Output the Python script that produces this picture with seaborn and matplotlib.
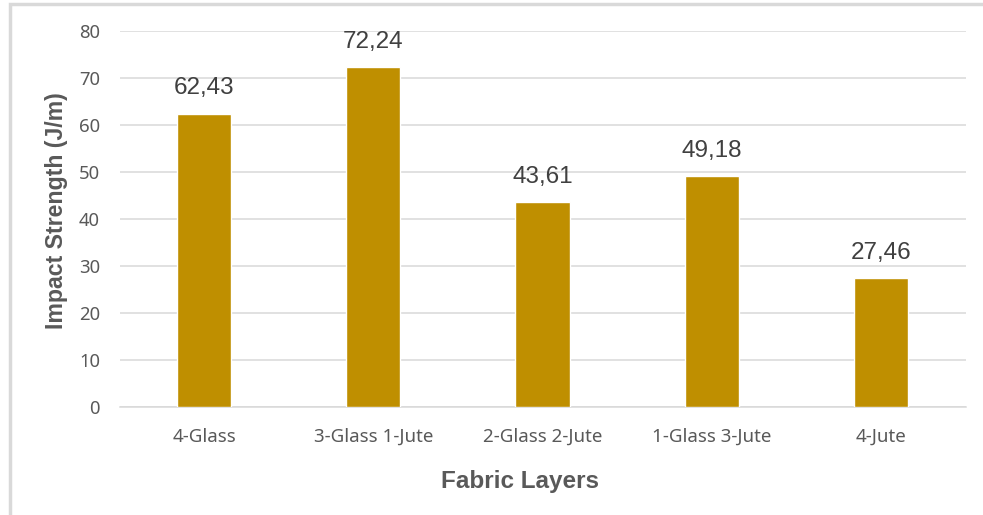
import matplotlib
matplotlib.use("Agg")
import matplotlib.pyplot as plt
import seaborn as sns
import pandas as pd
from matplotlib.patches import Rectangle

categories = ["4-Glass", "3-Glass 1-Jute", "2-Glass 2-Jute", "1-Glass 3-Jute", "4-Jute"]
values = [62.43, 72.24, 43.61, 49.18, 27.46]
value_labels = ["62,43", "72,24", "43,61", "49,18", "27,46"]
yticks = [0, 10, 20, 30, 40, 50, 60, 70, 80]

sns.set_theme(style="white")
plt.rcParams['font.family'] = ['Liberation Sans', 'DejaVu Sans']

df = pd.DataFrame({"layer": categories, "strength": values})

fig = plt.figure(figsize=(9.83, 5.15), dpi=100)
fig.patches.append(Rectangle((10/983, -0.1), 1.2, 1 - 4/515 + 0.1, transform=fig.transFigure,
                             fill=False, edgecolor="#d9d9d9", linewidth=2.5, zorder=0))
ax = fig.add_axes([119.5/983, 1 - 407/515, (965.5 - 119.5)/983, (407 - 31)/515])

sns.barplot(data=df, x="layer", y="strength", color="#BF8F00", width=0.32,
            saturation=1, ax=ax, zorder=3)

ax.set_ylim(0, 80)
ax.set_xlim(-0.5, len(categories) - 0.5)
ax.set_yticks(yticks)
ax.yaxis.grid(True, color="#d9d9d9", linewidth=1.1, zorder=0)
ax.xaxis.grid(False)
for s in ["top", "right", "left"]:
    ax.spines[s].set_visible(False)
ax.spines["bottom"].set_color("#d9d9d9")
ax.spines["bottom"].set_linewidth(1.1)
ax.tick_params(axis="both", length=0, colors="#595959")
ax.tick_params(axis="y", pad=14, labelsize=13.3)
ax.tick_params(axis="x", pad=15, labelsize=13.5)
for lab in ax.get_xticklabels() + ax.get_yticklabels():
    lab.set_family(["Noto Sans", "DejaVu Sans"])

for i, (v, t) in enumerate(zip(values, value_labels)):
    ax.text(i, v + 3.0, t, ha="center", va="bottom", fontsize=17.5, color="#404040")

ax.set_xlabel("Fabric Layers", fontsize=17.5, fontweight="bold", color="#595959")
ax.set_ylabel("Impact Strength (J/m)", fontsize=16.7, fontweight="bold", color="#595959")
ax.xaxis.set_label_coords(0.473, -0.168)
ax.yaxis.set_label_coords(-0.061, 0.521)

fig.savefig("out.png", dpi=100)
